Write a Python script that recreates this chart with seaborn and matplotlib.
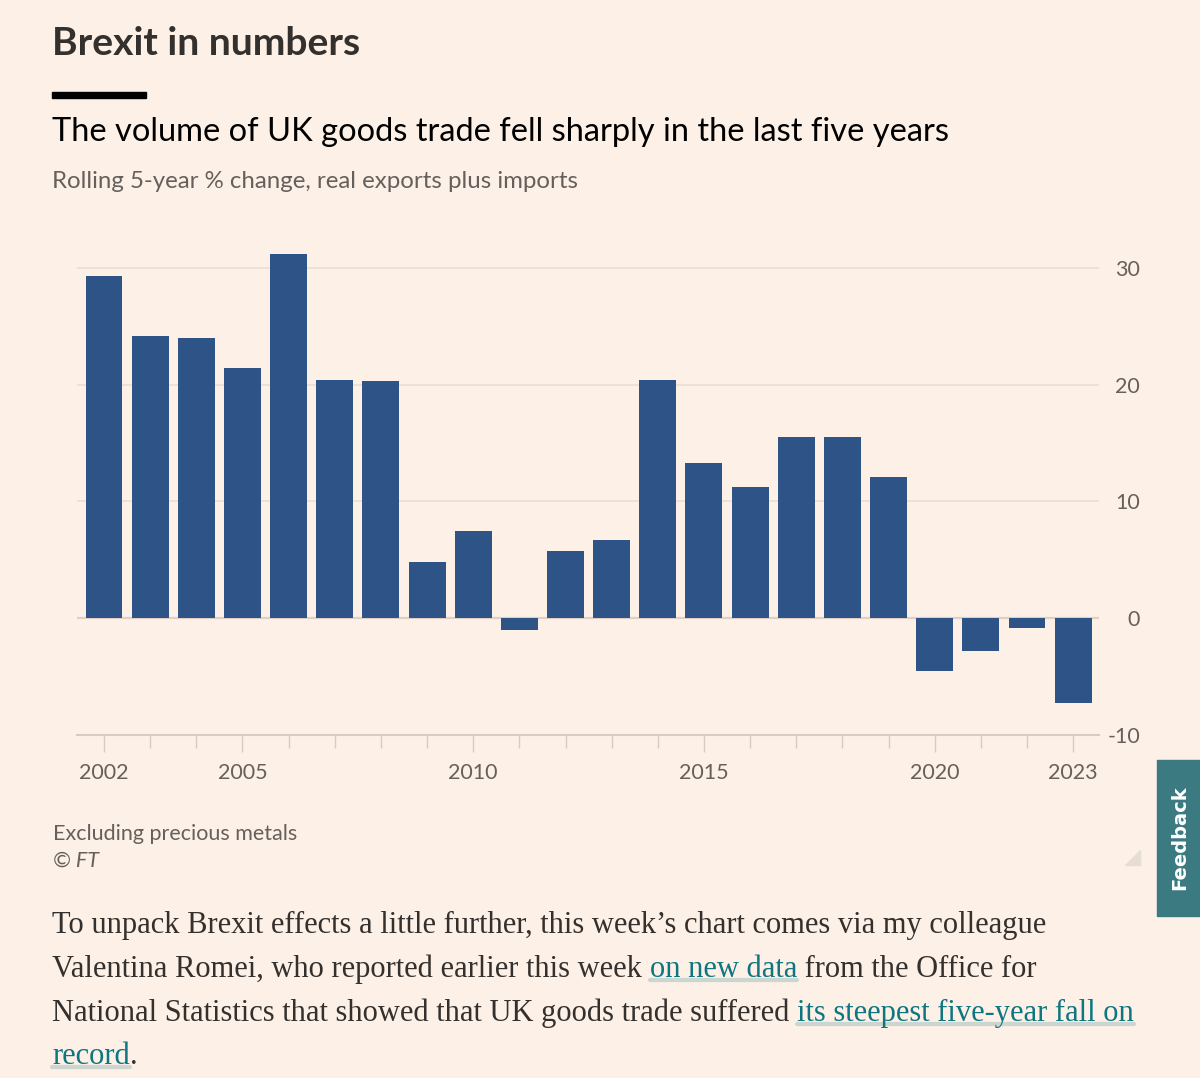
import matplotlib
matplotlib.use("Agg")
import matplotlib.pyplot as plt
import seaborn as sns
import pandas as pd
from matplotlib.patches import Rectangle, Polygon
from matplotlib.lines import Line2D

# ---------------- data ----------------
years = ["2002", "2003", "2004", "2005", "2006", "2007", "2008", "2009", "2010", "2011",
         "2012", "2013", "2014", "2015", "2016", "2017", "2018", "2019", "2020", "2021",
         "2022", "2023"]
values = [29.3, 24.2, 24.0, 21.4, 31.2, 20.4, 20.3, 4.8, 7.5, -1.0,
          5.8, 6.7, 20.4, 13.3, 11.2, 15.5, 15.5, 12.1, -4.5, -2.8,
          -0.8, -7.3]
labeled_years = ["2002", "2005", "2010", "2015", "2020", "2023"]
y_ticks = [-10, 0, 10, 20, 30]

title = "Brexit in numbers"
subtitle = "The volume of UK goods trade fell sharply in the last five years"
subsub = "Rolling 5-year % change, real exports plus imports"
note = "Excluding precious metals"
source = "© FT"
para_lines = [
    [("To unpack Brexit effects a little further, this week’s chart comes via my colleague", False)],
    [("Valentina Romei, who reported earlier this week ", False), ("on new data", True),
     (" from the Office for", False)],
    [("National Statistics that showed that UK goods trade suffered ", False),
     ("its steepest five-year fall on", True)],
    [("record", True), (".", False)],
]

# ---------------- style ----------------
W, H = 1200, 1078
BG = "#fdf0e6"
BAR = "#2e5386"
GRID = "#eadfd5"
ZERO = "#e0cfc4"
AXIS = "#d8ccc2"
GREY = "#66605c"
DARK = "#33302e"
LINK = "#0d7680"
SANS = ["Lato", "DejaVu Sans"]
SERIF = ["Liberation Serif", "DejaVu Serif"]

sns.set_theme(style="white")
plt.rcParams["font.family"] = SANS
plt.rcParams["figure.facecolor"] = BG
plt.rcParams["axes.facecolor"] = BG

fig = plt.figure(figsize=(W / 100, H / 100), dpi=100)
fig.patch.set_facecolor(BG)


def fx(px):
    return px / W


def fy(py):
    return 1 - py / H


# axes: left 77px, right 1099px, bottom (-10) at 735px, top (32) at 244.6px
ax = fig.add_axes([fx(77), fy(735), (1099 - 77) / W, (735 - 244.6) / H])
ax.set_facecolor(BG)

df = pd.DataFrame({"year": years, "value": values})
sns.barplot(data=df, x="year", y="value", color=BAR, saturation=1, width=0.8,
            linewidth=0, ax=ax, zorder=3)

ax.set_xlim(-0.585, 21.56)
ax.set_ylim(-10, 32)

# gridlines
for v in y_ticks[1:]:
    ax.axhline(v, color=ZERO if v == 0 else GRID, lw=1.6 if v == 0 else 1.2, zorder=1)

for s in ["top", "left", "right"]:
    ax.spines[s].set_visible(False)
ax.spines["bottom"].set_color(AXIS)
ax.spines["bottom"].set_linewidth(1.5)
ax.spines["bottom"].set_position(("data", -10))

# x ticks
major = [i for i, y in enumerate(years) if y in labeled_years]
minor = [i for i, y in enumerate(years) if y not in labeled_years]
ax.set_xticks(major)
ax.set_xticklabels([years[i] for i in major])
ax.set_xticks(minor, minor=True)
ax.tick_params(axis="x", which="major", length=12.5, width=1, color=AXIS, pad=8,
               labelsize=15.5, labelcolor=GREY, bottom=True)
ax.tick_params(axis="x", which="minor", length=9.5, width=1, color=AXIS, bottom=True)
ax.set_xlabel("")
ax.set_ylabel("")

# y ticks on right, right-aligned
ax.yaxis.tick_right()
ax.set_yticks(y_ticks)
ax.set_yticklabels([str(v) for v in y_ticks])
ax.tick_params(axis="y", length=0, pad=29.5, labelsize=15.5, labelcolor=GREY, right=True, left=False)
for lab in ax.get_yticklabels():
    lab.set_horizontalalignment("right")

# ---------------- header text ----------------
fig.text(fx(52), fy(55), title, fontsize=28.1, fontweight="bold", color=DARK,
         va="baseline", ha="left")
fig.patches.append(Rectangle((fx(52), fy(98)), (146 - 52) / W, 6 / H,
                             transform=fig.transFigure, color="#000000", zorder=5))
fig.text(fx(52), fy(141), subtitle, fontsize=23.5, color="#000000", va="baseline", ha="left")
fig.text(fx(52), fy(188), subsub, fontsize=17.3, color=GREY, va="baseline", ha="left")

# footer
fig.text(fx(53), fy(840), note, fontsize=15.5, color=GREY, va="baseline", ha="left")
fig.text(fx(53), fy(867), source, fontsize=15.5, color=GREY, style="italic",
         va="baseline", ha="left")

# resize triangle
fig.patches.append(Polygon([(fx(1140), fy(850)), (fx(1140), fy(865)), (fx(1125), fy(865))],
                           closed=True, transform=fig.transFigure, color="#e6ddd5", zorder=2))

# feedback tab
fig.patches.append(Rectangle((fx(1157), fy(916)), (W - 1157) / W, (916 - 760) / H,
                             transform=fig.transFigure, color="#3a7a80", zorder=2))
fig.text(fx(1180), fy(838), "Feedback", rotation=90, color="white", fontsize=14,
         fontweight="bold", family=["DejaVu Sans"], ha="center", va="center")

# ---------------- paragraph ----------------
fig.canvas.draw()
renderer = fig.canvas.get_renderer()
baselines = [933, 977, 1021, 1064]
PFS = 22
for line, base in zip(para_lines, baselines):
    x = 52.0
    for txt, is_link in line:
        t = fig.text(fx(x), fy(base), txt, fontsize=PFS, family=SERIF,
                     color=LINK if is_link else DARK, va="baseline", ha="left", zorder=4)
        bb = t.get_window_extent(renderer)
        if is_link:
            fig.lines.append(Line2D([fx(bb.x0), fx(bb.x1)], [fy(base + 3), fy(base + 3)],
                                    transform=fig.transFigure, color="#ccd6d1", lw=3,
                                    zorder=3))
        x = bb.x1

fig.savefig("out.png", dpi=100, facecolor=BG)
